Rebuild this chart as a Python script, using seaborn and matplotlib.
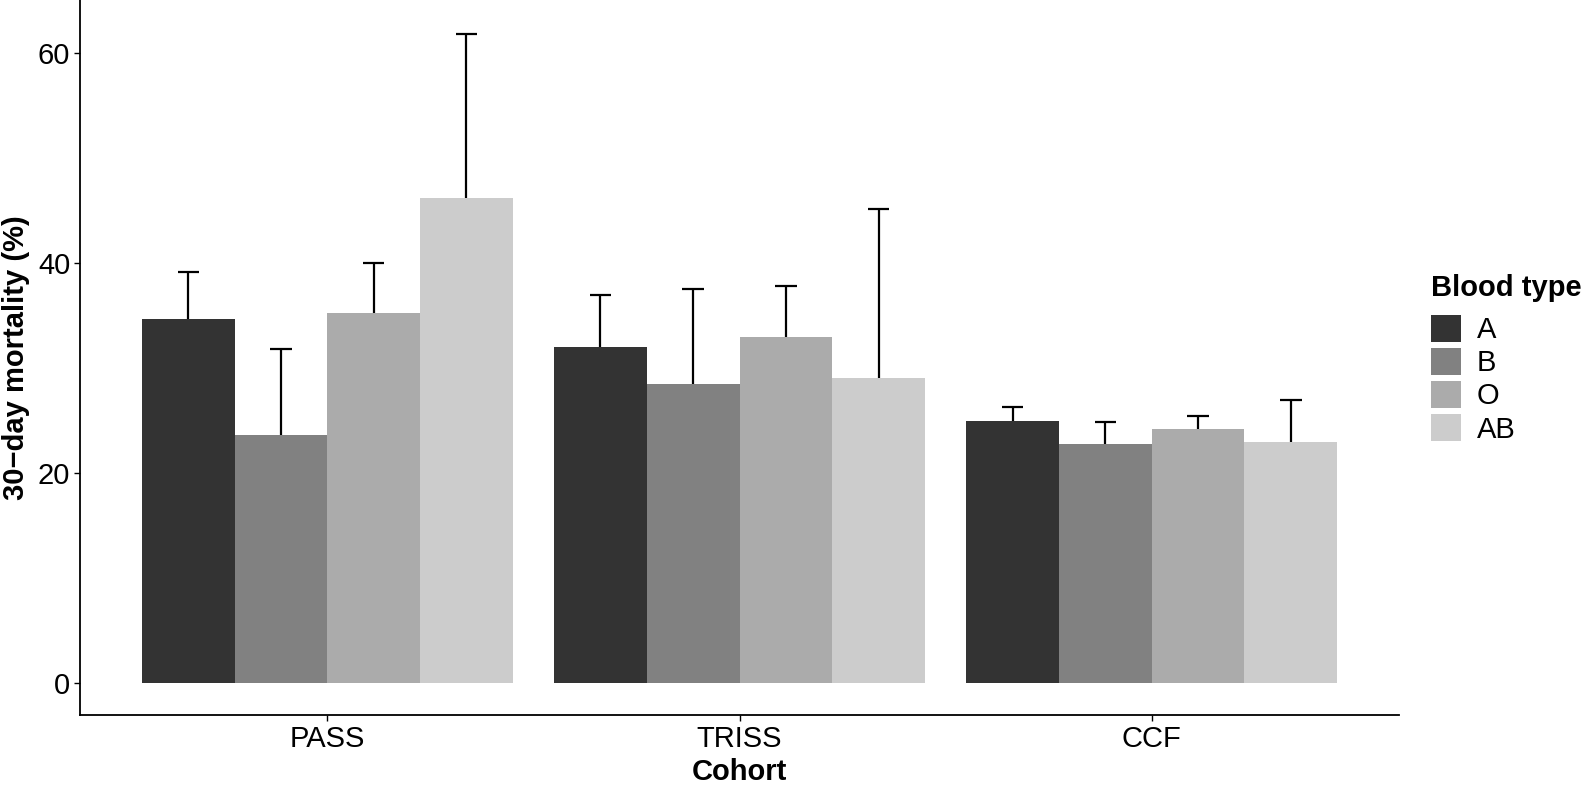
import matplotlib
matplotlib.use("Agg")
import matplotlib.pyplot as plt
import pandas as pd
import seaborn as sns

# values (30-day mortality, %)
cohorts = ["PASS", "TRISS", "CCF"]
blood_types = ["A", "B", "O", "AB"]

mortality_a = [34.6, 32.0, 24.9]
mortality_b = [23.6, 28.4, 22.7]
mortality_o = [35.2, 32.9, 24.1]
mortality_ab = [46.1, 29.0, 22.9]

upper_a = [39.1, 36.9, 26.2]
upper_b = [31.8, 37.5, 24.8]
upper_o = [40.0, 37.8, 25.4]
upper_ab = [61.8, 45.1, 26.9]

grey_fill = ["#333333", "#818181", "#ABABAB", "#CCCCCC"]


def build_frame():
    rows = []
    means = [mortality_a, mortality_b, mortality_o, mortality_ab]
    uppers = [upper_a, upper_b, upper_o, upper_ab]
    for bt, m, u in zip(blood_types, means, uppers):
        for c, mv, uv in zip(cohorts, m, u):
            rows.append({"Cohort": c, "Blood type": bt, "mortality": mv, "upper": uv})
    return pd.DataFrame(rows)


def main():
    sns.set_style("ticks")
    plt.rcParams["font.family"] = ["Liberation Sans", "DejaVu Sans"]
    plt.rcParams["text.color"] = "black"
    plt.rcParams["axes.labelcolor"] = "black"

    df = build_frame()

    fig = plt.figure(figsize=(15.94, 7.91), dpi=100)
    ax = fig.add_axes([0.0502, 0.096, 0.8275, 0.904])

    sns.barplot(data=df, x="Cohort", y="mortality", hue="Blood type",
                order=cohorts, hue_order=blood_types, palette=grey_fill,
                width=0.9, errorbar=None, saturation=1, linewidth=0, ax=ax)

    # upper-only error bars, one container per blood type
    cap = 0.026
    for bt, container in zip(blood_types, ax.containers):
        sub = df[df["Blood type"] == bt].set_index("Cohort").loc[cohorts]
        for bar, top in zip(container, sub["upper"]):
            x = bar.get_x() + bar.get_width() / 2
            y = bar.get_height()
            ax.vlines(x, y, top, color="black", linewidth=1.6, zorder=3)
            ax.hlines(top, x - cap, x + cap, color="black", linewidth=1.6, zorder=3)

    ax.set_xlim(-0.6, 2.6)
    ax.set_ylim(-3.1, 65.0)
    ax.set_yticks([0, 20, 40, 60])

    sns.despine(ax=ax)
    for side in ["left", "bottom"]:
        ax.spines[side].set_linewidth(1.3)
        ax.spines[side].set_color("black")
    ax.tick_params(axis="both", labelsize=21, colors="black", length=4, width=1, pad=3)

    ax.set_xlabel("Cohort", fontsize=21, fontweight="bold", labelpad=4)
    ax.set_ylabel("30\u2212day mortality (%)", fontsize=21, fontweight="bold", labelpad=6)

    # legend keys, with the title placed separately to get ggplot-like spacing
    handles, labels = ax.get_legend_handles_labels()
    ax.legend(handles, labels, frameon=False,
              loc="upper left", bbox_to_anchor=(0.8977, 0.6018),
              bbox_transform=fig.transFigure,
              fontsize=21, handlelength=1.03, handleheight=1.03,
              labelspacing=0.13, handletextpad=0.55,
              borderpad=0, borderaxespad=0)
    fig.text(0.8977, 0.6363, "Blood type", fontsize=21, fontweight="bold",
             ha="left", va="center")

    fig.savefig("out.png", dpi=100)


if __name__ == "__main__":
    main()
